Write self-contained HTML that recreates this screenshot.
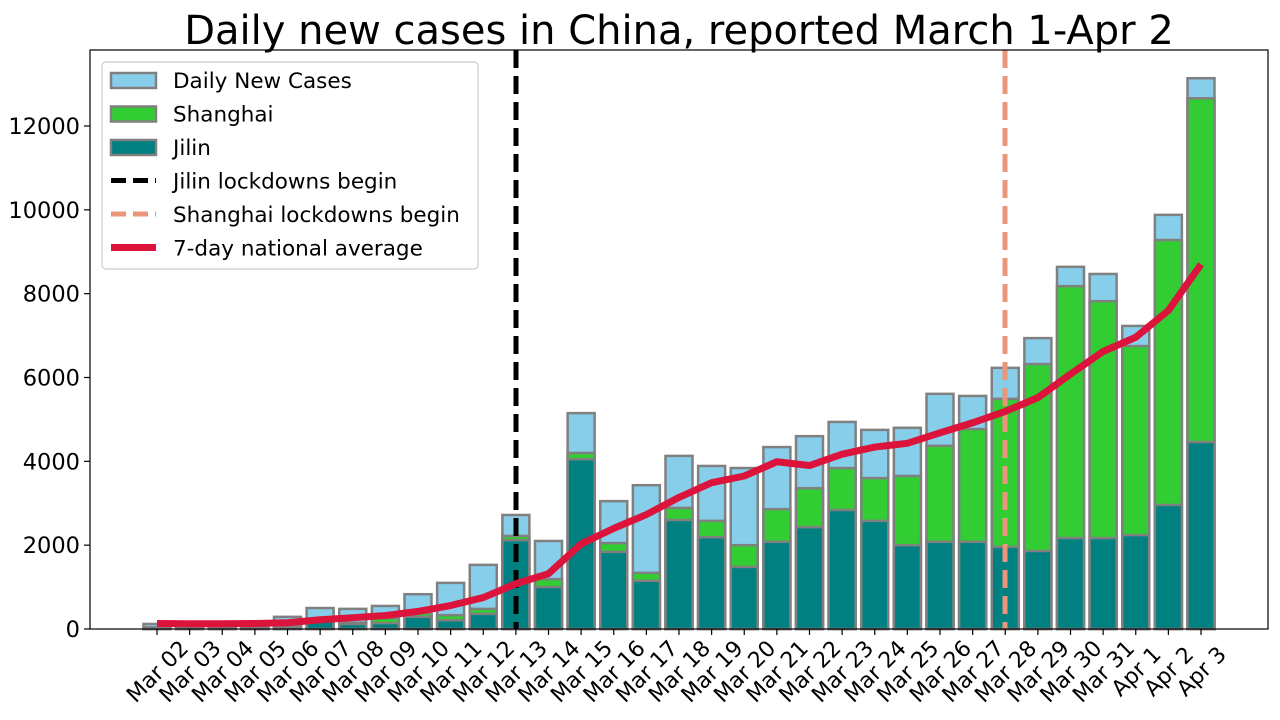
<!DOCTYPE html>
<html><head><meta charset="utf-8"><style>
html,body{margin:0;padding:0;background:#fff;}
svg{display:block;font-family:"DejaVu Sans","Liberation Sans",sans-serif;}
</style></head><body>
<svg id="s" width="1280" height="720" viewBox="0 0 1280 720" xmlns="http://www.w3.org/2000/svg">
<rect width="1280" height="720" fill="#fff"/>
<text x="679" y="44" font-size="40" text-anchor="middle" fill="#000">Daily new cases in China, reported March 1-Apr 2</text>
<g id="bars"></g>
<g id="ax"></g>
</svg>
<script>
var labels=["Mar 02","Mar 03","Mar 04","Mar 05","Mar 06","Mar 07","Mar 08","Mar 09","Mar 10","Mar 11","Mar 12","Mar 13","Mar 14","Mar 15","Mar 16","Mar 17","Mar 18","Mar 19","Mar 20","Mar 21","Mar 22","Mar 23","Mar 24","Mar 25","Mar 26","Mar 27","Mar 28","Mar 29","Mar 30","Mar 31","Apr 1","Apr 2","Apr 3"];
var tot=[120,110,110,120,290,500,480,550,830,1100,1530,2720,2100,5150,3050,3430,4130,3890,3840,4340,4600,4940,4750,4800,5610,5560,6230,6940,8640,8470,7230,9880,13140];
var sh=[40,40,40,40,90,240,150,260,380,330,480,2220,1190,4200,2050,1340,2890,2580,2000,2860,3360,3840,3600,3650,4370,4770,5490,6320,8180,7820,6750,9280,12660];
var jl=[20,20,20,20,60,200,120,140,290,210,360,2120,1000,4050,1840,1150,2600,2190,1480,2080,2430,2840,2580,2000,2080,2080,1960,1860,2170,2170,2240,2960,4460];
var avg=[130,125,125,130,150,220,270,320,420,560,750,1080,1320,2030,2400,2730,3140,3490,3650,3990,3900,4170,4340,4430,4680,4920,5190,5520,6080,6620,6960,7600,8700];
var Y=function(v){return 629-v*0.041917;};
var X=function(i){return 157+i*32.625;};
var w=27,h='';
function rect(x,v,c){return '<rect x="'+(x-w/2)+'" y="'+Y(v)+'" width="'+w+'" height="'+(629-Y(v))+'" fill="'+c+'" stroke="#808080" stroke-width="2.5"/>';}
for(var i=0;i<33;i++){var x=X(i);h+=rect(x,tot[i],'#87ceeb');}
for(var i=0;i<33;i++){var x=X(i);h+=rect(x,sh[i],'#32cd32');}
for(var i=0;i<33;i++){var x=X(i);h+=rect(x,jl[i],'#008080');}
h+='<line x1="516" y1="50" x2="516" y2="629" stroke="#000" stroke-width="5" stroke-dasharray="18,8"/>';
h+='<line x1="1005" y1="50" x2="1005" y2="629" stroke="#e9967a" stroke-width="5" stroke-dasharray="18,8"/>';
var p='';for(var i=0;i<33;i++){p+=(i?'L':'M')+X(i)+','+Y(avg[i]);}
h+='<path d="'+p+'" fill="none" stroke="#dc143c" stroke-width="7" stroke-linejoin="round"/>';
document.getElementById('bars').innerHTML=h;
var a='<rect x="90" y="50" width="1178" height="579" fill="none" stroke="#000" stroke-width="1.2"/>';
for(var v=0;v<=12000;v+=2000){var y=Y(v);a+='<line x1="84" y1="'+y+'" x2="90" y2="'+y+'" stroke="#000" stroke-width="1.2"/><text x="80" y="'+(y+8)+'" font-size="22.5" text-anchor="end">'+v+'</text>';}
for(var i=0;i<33;i++){var x=X(i);a+='<line x1="'+x+'" y1="629" x2="'+x+'" y2="635" stroke="#000" stroke-width="1.2"/><text font-size="22" text-anchor="middle" transform="translate('+(x)+',671) rotate(-45)" dy="8">'+labels[i]+'</text>';}
a+='<rect x="102" y="62" width="376" height="207" rx="4" fill="#fff" fill-opacity="0.85" stroke="#ccc" stroke-width="1.2"/>';
var L=[['Daily New Cases','p','#87ceeb'],['Shanghai','p','#32cd32'],['Jilin','p','#008080'],['Jilin lockdowns begin','d','#000'],['Shanghai lockdowns begin','d','#e9967a'],['7-day national average','l','#dc143c']];
for(var k=0;k<6;k++){var y=80+k*33.5;var e=L[k];
if(e[1]=='p')a+='<rect x="111" y="'+(y-7)+'" width="45" height="15" fill="'+e[2]+'" stroke="#808080" stroke-width="2.5"/>';
else if(e[1]=='d')a+='<line x1="111" y1="'+y+'" x2="156" y2="'+y+'" stroke="'+e[2]+'" stroke-width="5" stroke-dasharray="15,7"/>';
else a+='<line x1="111" y1="'+y+'" x2="156" y2="'+y+'" stroke="'+e[2]+'" stroke-width="7"/>';
a+='<text x="173" y="'+(y+8)+'" font-size="21.5">'+e[0]+'</text>';}
document.getElementById('ax').innerHTML=a;
</script>
</body></html>
